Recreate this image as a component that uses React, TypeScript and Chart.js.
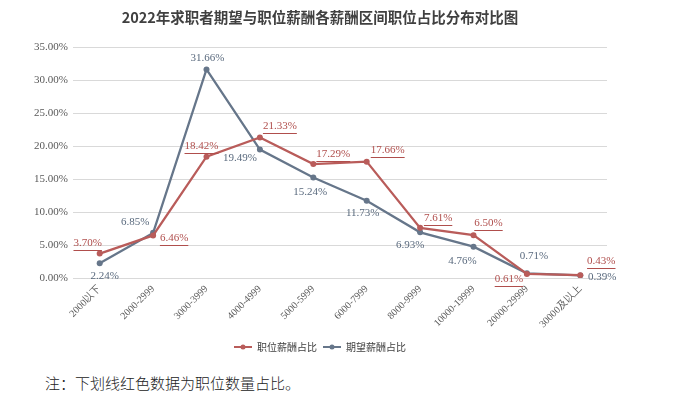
import React, { useEffect, useRef } from "react";
import { Chart, registerables } from "chart.js";

Chart.register(...registerables);

const categories = ["2000以下", "2000-2999", "3000-3999", "4000-4999", "5000-5999", "6000-7999", "8000-9999", "10000-19999", "20000-29999", "30000及以上"];
const jobShare = [3.70, 6.46, 18.42, 21.33, 17.29, 17.66, 7.61, 6.50, 0.61, 0.43];
const expectShare = [2.24, 6.85, 31.66, 19.49, 15.24, 11.73, 6.93, 4.76, 0.71, 0.39];
const yTicks = [0, 5, 10, 15, 20, 25, 30, 35];

// label offsets (px, relative to point) — styling only
const jobLabelOffset = [[-12, -11], [21, 3], [-5, -11], [20, -11], [20, -10], [21, -12], [18, -10], [15, -12], [-18, 5], [21, -14]];
const expectLabelOffset = [[5, 13], [-18, -11], [1, -11], [-20, 9], [-3, 15], [-4, 12], [-10, 13], [-11, 14], [7, -17], [22, 2]];

const RED = "#B95C5A";
const BLUE = "#66768A";
const RED_TXT = "#B04E4C";
const BLUE_TXT = "#5A6A7E";

function makeMarker(color: string) {
  const c = document.createElement("canvas");
  c.width = 18;
  c.height = 8;
  const ctx = c.getContext("2d")!;
  ctx.strokeStyle = color;
  ctx.lineWidth = 2;
  ctx.beginPath();
  ctx.moveTo(0, 4);
  ctx.lineTo(18, 4);
  ctx.stroke();
  ctx.fillStyle = color;
  ctx.beginPath();
  ctx.arc(9, 4, 2.5, 0, Math.PI * 2);
  ctx.fill();
  return c;
}

const labelPlugin = {
  id: "pointLabels",
  afterDatasetsDraw(chart: any) {
    const ctx = chart.ctx;
    ctx.save();
    ctx.font = "11px 'Liberation Serif'";
    ctx.textAlign = "center";
    ctx.textBaseline = "middle";
    chart.data.datasets.forEach((ds: any, di: number) => {
      const meta = chart.getDatasetMeta(di);
      const offs = di === 0 ? jobLabelOffset : expectLabelOffset;
      meta.data.forEach((pt: any, i: number) => {
        const txt = (ds.data[i] as number).toFixed(2) + "%";
        const x = pt.x + offs[i][0];
        const y = pt.y + offs[i][1];
        ctx.fillStyle = di === 0 ? RED_TXT : BLUE_TXT;
        ctx.fillText(txt, x, y);
        if (di === 0) {
          const w = ctx.measureText(txt).width;
          ctx.strokeStyle = RED_TXT;
          ctx.lineWidth = 1;
          ctx.beginPath();
          ctx.moveTo(x - w / 2, Math.round(y + 7) + 0.5);
          ctx.lineTo(x + w / 2, Math.round(y + 7) + 0.5);
          ctx.stroke();
        }
      });
    });
    ctx.restore();
  },
};

export default function App() {
  const ref = useRef<HTMLCanvasElement>(null);
  useEffect(() => {
    const redMarker = makeMarker(RED);
    const blueMarker = makeMarker(BLUE);
    const chart = new Chart(ref.current!, {
      type: "line",
      data: {
        labels: categories,
        datasets: [
          {
            label: "职位薪酬占比",
            data: jobShare,
            borderColor: RED,
            backgroundColor: RED,
            borderWidth: 2.25,
            pointRadius: 3,
            pointBackgroundColor: RED,
            pointBorderWidth: 0,
            pointStyle: "circle",
            tension: 0,
          },
          {
            label: "期望薪酬占比",
            data: expectShare,
            borderColor: BLUE,
            backgroundColor: BLUE,
            borderWidth: 2.25,
            pointRadius: 3,
            pointBackgroundColor: BLUE,
            pointBorderWidth: 0,
            pointStyle: "circle",
            tension: 0,
          },
        ],
      },
      options: {
        animation: false,
        responsive: false,
        maintainAspectRatio: false,
        layout: { padding: { left: 33, right: 93, top: 0, bottom: 2 } },
        plugins: {
          title: {
            display: true,
            text: "2022年求职者期望与职位薪酬各薪酬区间职位占比分布对比图",
            color: "#404040",
            font: { family: "'Noto Sans CJK SC'", size: 14.5, weight: "bold" },
            padding: { top: 9, bottom: 21 },
          },
          legend: {
            display: true,
            position: "bottom",
            labels: {
              color: "#404040",
              font: { family: "'Noto Sans CJK SC'", size: 10 },
              usePointStyle: true,
              pointStyleWidth: 18,
              padding: 6,
              generateLabels: (ch: any) =>
                ch.data.datasets.map((d: any, i: number) => ({
                  text: d.label,
                  pointStyle: i === 0 ? redMarker : blueMarker,
                  fillStyle: d.borderColor,
                  strokeStyle: d.borderColor,
                  lineWidth: 0,
                  fontColor: "#404040",
                  datasetIndex: i,
                  hidden: false,
                })),
            },
          },
          tooltip: { enabled: false },
        },
        scales: {
          x: {
            offset: true,
            grid: { display: false, drawTicks: false },
            border: { display: true, color: "#D9D9D9" },
            ticks: {
              color: "#595959",
              font: { family: "'Liberation Serif'", size: 10 },
              minRotation: 45,
              maxRotation: 45,
              padding: 5,
              autoSkip: false,
            },
            afterFit: (s: any) => {
              s.height = 58;
            },
          },
          y: {
            min: 0,
            max: 35,
            afterBuildTicks: (s: any) => {
              s.ticks = yTicks.map((v) => ({ value: v }));
            },
            grid: { color: "#D9D9D9", drawTicks: false },
            border: { display: false },
            ticks: {
              color: "#595959",
              font: { family: "'Liberation Serif'", size: 11 },
              padding: 5,
              callback: (v: any) => Number(v).toFixed(2) + "%",
            },
            afterFit: (s: any) => {
              s.width = 40;
            },
          },
        },
      },
      plugins: [labelPlugin],
    });
    return () => chart.destroy();
  }, []);
  return (
    <div style={{ position: "fixed", left: 0, top: 0, width: 700, height: 413, background: "#fff" }}>
      <canvas ref={ref} width={700} height={364} style={{ display: "block", width: 700, height: 364 }} />
      <div
        style={{
          position: "absolute",
          left: 45,
          top: 372,
          fontFamily: "'Noto Sans CJK SC'",
          fontSize: 15,
          fontWeight: 300,
          color: "#222",
          lineHeight: "22px",
          whiteSpace: "nowrap",
        }}
      >
        注：下划线红色数据为职位数量占比。
      </div>
    </div>
  );
}
